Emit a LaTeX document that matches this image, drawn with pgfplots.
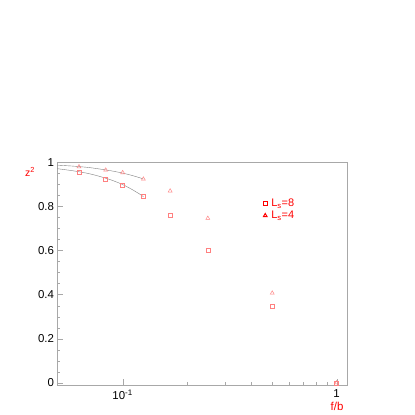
\documentclass[border=0pt]{standalone}
\usepackage{pgfplots}
\pgfplotsset{compat=1.18}
\usepackage{fontspec}
\setmainfont{Liberation Sans}
\definecolor{markred}{HTML}{FF8080}
\definecolor{framegray}{HTML}{A8A8A8}
\definecolor{fitgray}{HTML}{808080}
\begin{document}
\begin{tikzpicture}[x=1bp,y=1bp]
\path[fill=white] (0,0) rectangle (415,415);
\begin{axis}[
    xmode=log,
    scale only axis,
    width=289.2bp, height=222.7bp,
    at={(57.5bp,30bp)}, anchor=south west,
    xmin=0.0496, xmax=1.114,
    ymin=-0.01, ymax=1.0,
    axis line style={framegray},
    tick style={framegray},
    tick align=inside,
    tick pos=left,
    major tick length=6bp,
    minor tick length=3bp,
    xtick={0.1,1},
    xticklabels={10\textsuperscript{-1},1},
    ytick={0,0.2,0.4,0.6,0.8,1},
    minor ytick={0.05,0.1,...,0.95},
    yticklabel style={/pgf/number format/assume math mode=true},
    ticklabel style={font=\fontsize{11.5}{13}\selectfont, black},
    xticklabel style={yshift=-1bp},
    legend style={at={(0.70,0.788)}, anchor=west, draw=none, fill=none,
        column sep=2bp, row sep=-1bp, legend cell align=left,
        nodes={font=\fontsize{11}{12}\selectfont, text=red}},
    legend image code/.code={
        \draw[mark repeat=2, mark phase=2, #1, color=red,
              mark options={color=red, fill=white, solid, line width=1bp, mark size=2.1bp}]
            plot coordinates {(0bp,0bp) (5bp,0bp) (10bp,0bp)};
    },
]
\addplot[only marks, mark=square, mark size=2bp, color=markred, mark options={line width=0.45bp}] coordinates {
    (0.0625,0.957) (0.0833,0.924) (0.1,0.897) (0.125,0.844)
    (0.1667,0.758) (0.25,0.599) (0.5,0.348) (1,0.0)
};
\addlegendentry{L\textsubscript{s}=8}
\addplot[only marks, mark=triangle, mark size=2.3bp, color=markred, mark options={line width=0.45bp}] coordinates {
    (0.0625,0.980) (0.0833,0.965) (0.1,0.953) (0.125,0.924)
    (0.1667,0.870) (0.25,0.746) (0.5,0.407) (1,0.0)
};
\addlegendentry{L\textsubscript{s}=4}
\addplot[fitgray, thin, smooth, forget plot] coordinates {
    (0.0496,0.971) (0.06,0.960) (0.07,0.948) (0.08,0.933) (0.09,0.917)
    (0.10,0.899) (0.11,0.878) (0.12,0.856) (0.125,0.844)
};
\addplot[fitgray, thin, smooth, forget plot] coordinates {
    (0.0496,0.987) (0.06,0.982) (0.07,0.976) (0.08,0.968) (0.09,0.960)
    (0.10,0.951) (0.11,0.941) (0.12,0.930) (0.125,0.924)
};
\end{axis}
\node[red, font=\fontsize{10.5}{12}\selectfont] at (30,243) {z\textsuperscript{2}};
\node[red, font=\fontsize{11.5}{13}\selectfont] at (337,9) {f/b};
\end{tikzpicture}
\end{document}
